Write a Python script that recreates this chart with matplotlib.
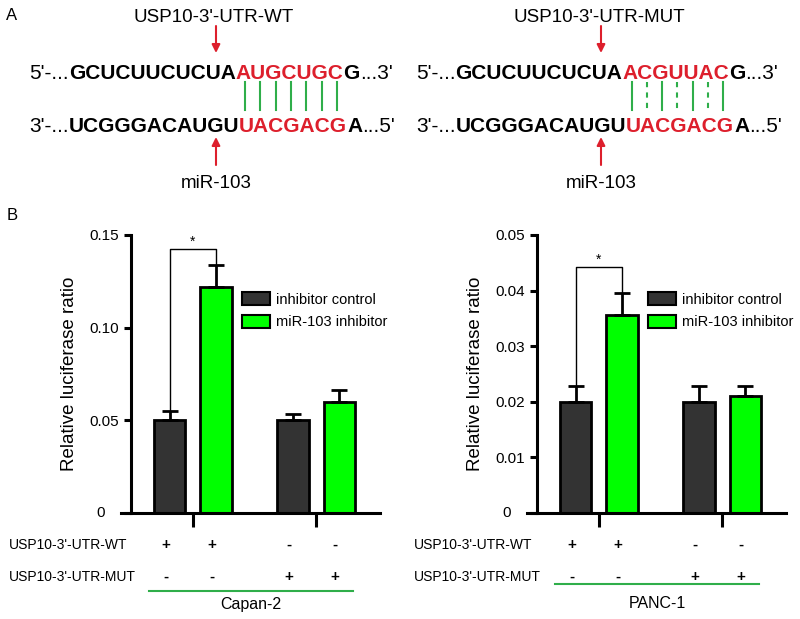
import numpy as np
import matplotlib
matplotlib.use('Agg')
import matplotlib.pyplot as plt
import matplotlib.transforms as mtransforms
from matplotlib.patches import Patch

plt.rcParams['font.family'] = ['Liberation Sans', 'DejaVu Sans']

# %% data
groups = ['inhibitor control', 'miR-103 inhibitor']
bar_pos = [0, 1, 2.67, 3.67]
capan_vals = [0.050, 0.122, 0.050, 0.060]
capan_err = [0.0053, 0.0118, 0.0033, 0.0063]
panc_vals = [0.0200, 0.0356, 0.0200, 0.0211]
panc_err = [0.0028, 0.0039, 0.0028, 0.0017]
wt_signs = ['+', '+', '-', '-']
mut_signs = ['-', '-', '+', '+']
cell_lines = ['Capan-2', 'PANC-1']

dark = '#333333'
green = '#00ff00'
red = '#dd1f2c'
lgreen = '#2fae4a'

W, H = 800, 619
fig = plt.figure(figsize=(8, 6.19), dpi=100)

# overlay axes in pixel coordinates for panel A and table text
ov = fig.add_axes([0, 0, 1, 1])
ov.set_xlim(0, W)
ov.set_ylim(H, 0)
ov.axis('off')

ov.text(12, 15, 'A', fontsize=12, va='center', ha='center')
ov.text(12, 215, 'B', fontsize=12, va='center', ha='center')


def chain(x, y, parts):
    out = []
    prev = ov.text(x, y, parts[0][0], color=parts[0][1], fontweight=parts[0][2],
                   fontsize=15, va='baseline', ha='left')
    out.append(prev)
    for s, c, w in parts[1:]:
        prev = ov.annotate(s, xy=(1, 0), xycoords=prev, va='bottom', ha='left',
                           color=c, fontweight=w, fontsize=15)
        out.append(prev)
    return out


top_l = chain(29, 79, [("5'-...", 'k', 'normal'), ('GCUCUUCUCUA', 'k', 'bold'),
                       ('AUGCUGC', red, 'bold'), ('G', 'k', 'bold'), ("...3'", 'k', 'normal')])
bot_l = chain(29, 132, [("3'-...", 'k', 'normal'), ('UCGGGACAUGU', 'k', 'bold'),
                        ('UACGACG', red, 'bold'), ('A', 'k', 'bold'), ("...5'", 'k', 'normal')])
top_r = chain(416, 79, [("5'-...", 'k', 'normal'), ('GCUCUUCUCUA', 'k', 'bold'),
                        ('ACGUUAC', red, 'bold'), ('G', 'k', 'bold'), ("...3'", 'k', 'normal')])
bot_r = chain(416, 132, [("3'-...", 'k', 'normal'), ('UCGGGACAUGU', 'k', 'bold'),
                         ('UACGACG', red, 'bold'), ('A', 'k', 'bold'), ("...5'", 'k', 'normal')])

for cx, title in [(216, "USP10-3'-UTR-WT"), (601, "USP10-3'-UTR-MUT")]:
    ov.text(cx - 2, 17, title, fontsize=13.5, ha='center', va='center')
    ov.text(cx, 183, 'miR-103', fontsize=13.5, ha='center', va='center')
    ov.annotate('', xy=(cx, 53), xytext=(cx, 26),
                arrowprops=dict(arrowstyle='-|>', color=red, lw=1.5, mutation_scale=12,
                                shrinkA=0, shrinkB=0))
    ov.annotate('', xy=(cx, 137), xytext=(cx, 165),
                arrowprops=dict(arrowstyle='-|>', color=red, lw=1.5, mutation_scale=12,
                                shrinkA=0, shrinkB=0))

fig.canvas.draw()
inv = ov.transData.inverted()
for red_text, dashed in [(top_l[2], False), (top_r[2], True)]:
    bb = red_text.get_window_extent()
    (x0, _), (x1, _) = inv.transform([[bb.x0, bb.y0], [bb.x1, bb.y1]])
    step = (x1 - x0) / 7
    for i in range(7):
        xi = x0 + (i + 0.6) * step
        ls = (0, (2.5, 2.5)) if (dashed and i % 2 == 1) else '-'
        ov.plot([xi, xi], [82, 110], color=lgreen, lw=1.5, ls=ls)


# %% bar panels
def panel(left, vals, errs, ymax, ticks, ticklabels, sig_top, cell, line_y, xoff):
    ax = fig.add_axes([left / W, 1 - 513 / H, 259 / W, 278 / H])
    ax.patch.set_alpha(0)
    colors = [dark, green, dark, green]
    ax.bar(bar_pos, vals, width=0.68, color=colors, edgecolor='k', linewidth=2, zorder=2)
    ax.errorbar(bar_pos, vals, yerr=[np.zeros(4), errs], fmt='none', ecolor='k',
                elinewidth=2, capsize=5.5, capthick=2, zorder=3)
    ax.set_xlim(-1.05, 4.55)
    ax.set_ylim(0, ymax)
    for s in ['top', 'right']:
        ax.spines[s].set_visible(False)
    ax.spines['left'].set_position(('data', -0.84))
    ax.spines['left'].set_linewidth(2.2)
    ax.spines['bottom'].set_linewidth(2.2)
    ax.set_yticks(ticks)
    ax.set_yticklabels([''] + ticklabels[1:], fontsize=11)
    # the zero label sits left of the extended x axis line
    off = mtransforms.ScaledTranslation(-16 / 100, 0, fig.dpi_scale_trans)
    ax.text(0, 0, ticklabels[0], transform=ax.get_yaxis_transform() + off,
            ha='right', va='center', fontsize=11, clip_on=False)
    ax.set_xticks([0.5, 3.17])
    ax.set_xticklabels([])
    ax.tick_params(axis='y', width=2.2, length=5)
    ax.tick_params(axis='x', width=2.2, length=10, direction='out')
    ax.set_ylabel('Relative luciferase ratio', fontsize=13.5, labelpad=8)
    # significance bracket
    b0 = vals[0] + errs[0]
    b1 = vals[1] + errs[1]
    ax.plot([0, 0, 1, 1], [b0, sig_top, sig_top, b1], color='k', lw=1, zorder=1)
    ax.text(0.5, sig_top, '*', ha='center', va='bottom', fontsize=10)
    handles = [Patch(facecolor=dark, edgecolor='k', lw=1.5),
               Patch(facecolor=green, edgecolor='k', lw=1.5)]
    ax.legend(handles, groups, loc='upper left', bbox_to_anchor=(0.445, 0.815),
              frameon=False, fontsize=10.5, handlelength=1.9, handleheight=1.0,
              handletextpad=0.4, labelspacing=0.55, borderaxespad=0)
    # condition table
    for i, p in enumerate(bar_pos):
        xpix = ax.transData.transform((p, 0))[0]
        ov.text(xpix - 4, 545, wt_signs[i], ha='center', va='center', fontsize=11, fontweight='bold')
        ov.text(xpix - 4, 577, mut_signs[i], ha='center', va='center', fontsize=11, fontweight='bold')
    ov.text(xoff, 545, "USP10-3'-UTR-WT", ha='left', va='center', fontsize=10)
    ov.text(xoff, 577, "USP10-3'-UTR-MUT", ha='left', va='center', fontsize=10)
    lx0 = ax.transData.transform((bar_pos[0] - 0.45, 0))[0]
    lx1 = ax.transData.transform((bar_pos[3] + 0.3, 0))[0]
    ov.plot([lx0, lx1], [line_y, line_y], color=lgreen, lw=1.5)
    ov.text((lx0 + lx1) / 2, 604, cell, ha='center', va='center', fontsize=11.5)
    return ax


ax1 = panel(121, capan_vals, capan_err, 0.15, [0, 0.05, 0.10, 0.15],
            ['0', '0.05', '0.10', '0.15'], 0.1425, cell_lines[0], 591, 9)
ax2 = panel(527, panc_vals, panc_err, 0.05, [0, 0.01, 0.02, 0.03, 0.04, 0.05],
            ['0', '0.01', '0.02', '0.03', '0.04', '0.05'], 0.0442, cell_lines[1], 584, 414)

plt.savefig('out.png', dpi=100)
